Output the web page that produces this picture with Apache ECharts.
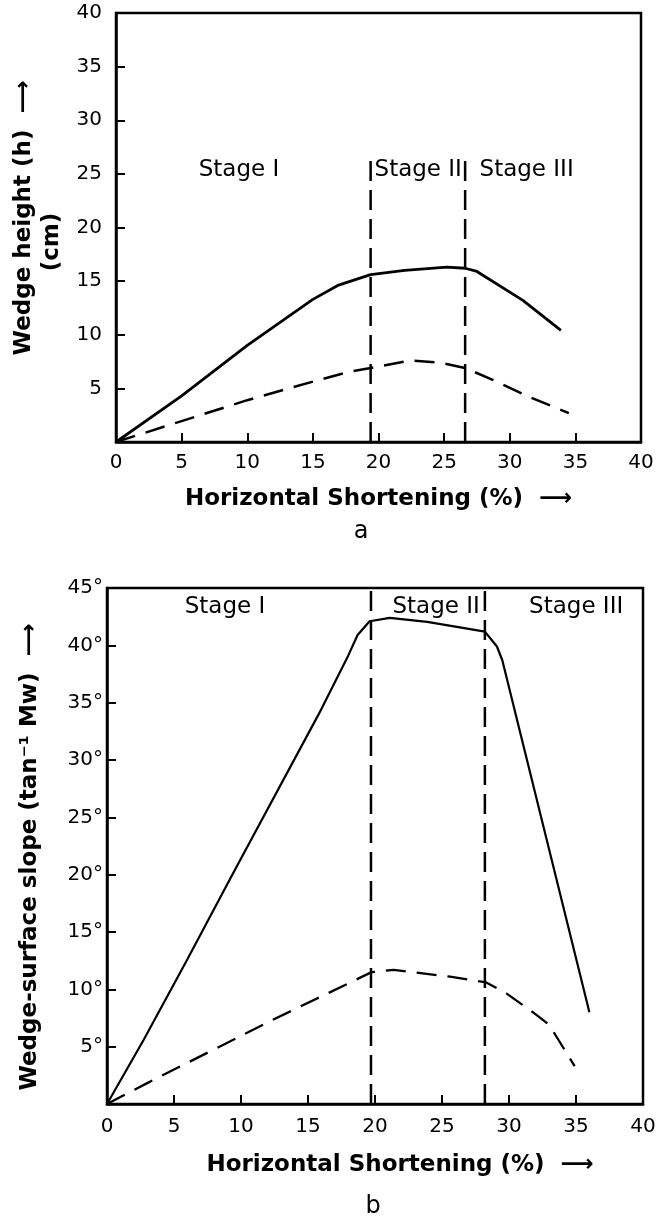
<!DOCTYPE html>
<html>
<head>
<meta charset="utf-8">
<script src="https://cdn.jsdelivr.net/npm/echarts@6/dist/echarts.min.js"></script>
<style>
  html, body { margin: 0; padding: 0; background: #fff; }
  #chart { width: 663px; height: 1220px; }
</style>
</head>
<body>
<div id="chart"></div>
<script>
// panel a: wedge height (cm) vs horizontal shortening (%)
const heightSolidX = [0, 5, 10, 15, 16.9, 19.4, 22, 25.2, 26.6, 27.5, 31, 33.9];
const heightSolidY = [0, 4.3, 9.0, 13.3, 14.6, 15.6, 16.0, 16.3, 16.2, 15.9, 13.2, 10.4];
const heightDashedX = [0, 5, 10, 15.5, 17.8, 19.4, 22.4, 24.7, 26.6, 28.7, 31.5, 34.5];
const heightDashedY = [0, 1.95, 3.9, 5.8, 6.55, 6.9, 7.6, 7.4, 6.9, 5.8, 4.2, 2.7];
const stageBoundsA = [19.4, 26.6];
const stageTopA = 26.7;
const stageLabelsA = [[6.3, 25.4, 'Stage I'], [19.7, 25.4, 'Stage II'], [27.7, 25.4, 'Stage III']];

// panel b: wedge-surface slope (deg) vs horizontal shortening (%)
const slopeSolidX = [0, 2.74, 5.97, 9.4, 15.8, 18.0, 18.7, 19.6, 21.1, 23.9, 28.2, 29.1, 29.5, 36.0];
const slopeSolidY = [0, 5.6, 12.55, 20.1, 34.0, 39.1, 40.9, 42.1, 42.4, 42.05, 41.2, 39.9, 38.7, 8.0];
const slopeDashedX = [0, 2.96, 12.3, 19.75, 21.4, 25.6, 28.3, 29.8, 31.9, 33.0, 34.9];
const slopeDashedY = [0, 1.8, 7.3, 11.5, 11.7, 11.1, 10.6, 9.65, 7.9, 6.9, 3.3];
const stageBoundsB = [19.7, 28.2];
const stageTopB = 45;
const stageLabelsB = [[5.8, 43.3, 'Stage I'], [21.3, 43.3, 'Stage II'], [31.5, 43.3, 'Stage III']];

const FONT = 'DejaVu Sans';
const BLACK = '#000';

const zip = (xs, ys) => xs.map((x, i) => [x, ys[i]]);

function xAxisFor(gridIndex, nameGap, labelMargin, namePad) {
  return {
    gridIndex: gridIndex,
    type: 'value',
    min: 0,
    max: 40,
    interval: 5,
    name: 'Horizontal Shortening (%)  \u27F6',
    nameLocation: 'middle',
    nameGap: nameGap,
    nameTextStyle: { color: BLACK, fontSize: 23, fontWeight: 'bold', fontFamily: FONT, padding: namePad },
    axisLine: { show: true, onZero: false, lineStyle: { color: BLACK, width: 2.5 } },
    axisTick: { show: true, inside: true, length: 9, lineStyle: { color: BLACK, width: 2 } },
    axisLabel: { color: BLACK, fontSize: 20, fontFamily: FONT, margin: labelMargin },
    splitLine: { show: false }
  };
}

function yAxisFor(gridIndex, max, name, nameGap, namePad, labelMargin, unit) {
  return {
    gridIndex: gridIndex,
    type: 'value',
    min: 0,
    max: max,
    interval: 5,
    name: name,
    nameLocation: 'middle',
    nameRotate: 90,
    nameGap: nameGap,
    nameTextStyle: { color: BLACK, fontSize: 23, fontWeight: 'bold', fontFamily: FONT, lineHeight: 28, padding: namePad },
    axisLine: { show: true, onZero: false, lineStyle: { color: BLACK, width: 2.5 } },
    axisTick: { show: true, inside: true, length: 9, lineStyle: { color: BLACK, width: 2 } },
    axisLabel: {
      color: BLACK, fontSize: 20, fontFamily: FONT, margin: labelMargin,
      formatter: v => (v === 0 ? '' : v + unit)
    },
    splitLine: { show: false }
  };
}

function curve(xi, data, dashed, width) {
  return {
    type: 'line',
    xAxisIndex: xi,
    yAxisIndex: xi,
    data: data,
    symbol: 'none',
    smooth: false,
    silent: true,
    lineStyle: { color: BLACK, width: width, type: dashed ? [20, 11] : 'solid' }
  };
}

function boundary(xi, x, top) {
  return {
    type: 'line',
    xAxisIndex: xi,
    yAxisIndex: xi,
    data: [[x, 0], [x, top]],
    symbol: 'none',
    silent: true,
    lineStyle: { color: BLACK, width: 2.5, type: [20, 9] }
  };
}

function stageText(xi, labels) {
  return {
    type: 'scatter',
    xAxisIndex: xi,
    yAxisIndex: xi,
    data: labels,
    symbolSize: 0,
    silent: true,
    itemStyle: { opacity: 1 },
    label: {
      show: true,
      position: 'right',
      distance: 0,
      color: BLACK,
      fontSize: 23,
      fontFamily: FONT,
      formatter: p => p.value[2]
    }
  };
}

const chart = echarts.init(document.getElementById('chart'), null, { renderer: 'canvas' });

chart.setOption({
  backgroundColor: '#fff',
  animation: false,
  grid: [
    { left: 116, right: 22, top: 13, height: 429, show: true, borderColor: BLACK, borderWidth: 2.5 },
    { left: 107, right: 20, top: 588, height: 516, show: true, borderColor: BLACK, borderWidth: 2.5 }
  ],
  xAxis: [xAxisFor(0, 46, 11, [0, 0, 0, 0]), xAxisFor(1, 50, 13, [0, 0, 0, 50])],
  yAxis: [
    yAxisFor(0, 40, 'Wedge height (h)  \u27F6\n(cm)      ', 43, [0, 0, 0, 19], 14, ''),
    yAxisFor(1, 45, 'Wedge-surface slope (tan\u207B\u00B9 Mw)  \u27F6', 63, [0, 22, 0, 0], 4, '\u00B0')
  ],
  graphic: [
    { type: 'text', x: 361, y: 532, style: { text: 'a', fontSize: 24, fontFamily: FONT, fill: BLACK, align: 'center', verticalAlign: 'middle' } },
    { type: 'text', x: 373, y: 1207, style: { text: 'b', fontSize: 24, fontFamily: FONT, fill: BLACK, align: 'center', verticalAlign: 'middle' } }
  ],
  series: [
    curve(0, zip(heightSolidX, heightSolidY), false, 2.8),
    curve(0, zip(heightDashedX, heightDashedY), true, 2.5),
    boundary(0, stageBoundsA[0], stageTopA),
    boundary(0, stageBoundsA[1], stageTopA),
    stageText(0, stageLabelsA),
    curve(1, zip(slopeSolidX, slopeSolidY), false, 2.2),
    curve(1, zip(slopeDashedX, slopeDashedY), true, 2.3),
    boundary(1, stageBoundsB[0], stageTopB),
    boundary(1, stageBoundsB[1], stageTopB),
    stageText(1, stageLabelsB)
  ]
});
</script>
</body>
</html>
